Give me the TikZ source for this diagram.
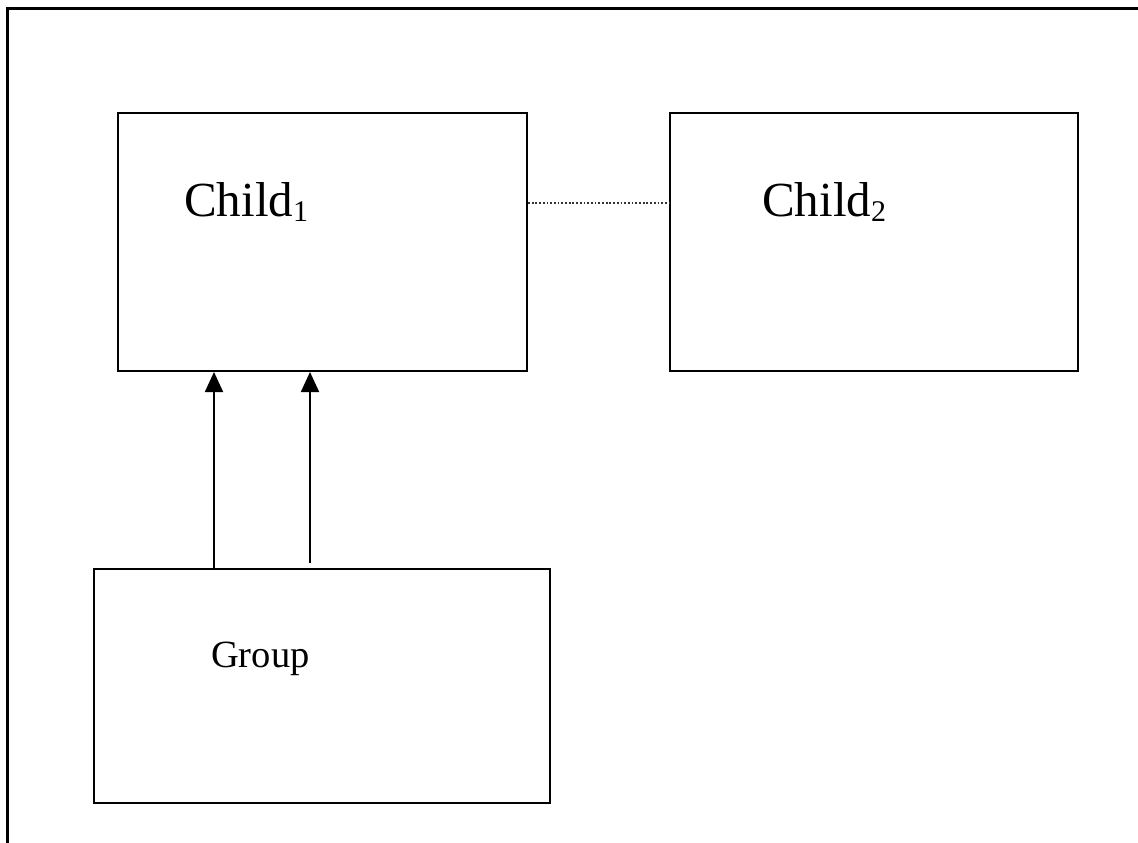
\documentclass[tikz,border=0pt]{standalone}
\usepackage{fontspec}
\setmainfont{Liberation Serif}
\usetikzlibrary{arrows.meta}
\newcommand\mysubidx[1]{\raisebox{-5pt}{\fontsize{30}{30}\selectfont #1}}
\tikzset{
  boxnode/.style={draw, line width=2pt, inner sep=0pt, rectangle},
  arr/.style={line width=1.8pt, -{Triangle[length=20pt,width=18pt]}},
  lbl/.style={anchor=base west, inner sep=0pt},
  frameline/.style={line width=3pt},
  dotline/.style={line width=1.2pt, dash pattern=on 1.8pt off 1.9pt, black!80}
}
\begin{document}
\begin{tikzpicture}[x=1pt,y=-1pt]
\useasboundingbox (0,0) rectangle (1138,843);
% outer frame (top and left edges only)
\coordinate (ftl) at (7,9);
\coordinate (ftr) at (1138,9);
\coordinate (fbl) at (7,843);
\draw[frameline] (ftr) -- (ftl) -- (fbl);
% boxes
\node[boxnode, minimum width=409pt, minimum height=258pt] (c1) at (322.5,242) {};
\node[boxnode, minimum width=408pt, minimum height=258pt] (c2) at (874,242) {};
\node[boxnode, minimum width=456pt, minimum height=234pt] (grp) at (322,686) {};
% labels
\node[lbl] (t1) at (184,216) {\fontsize{49}{49}\selectfont Child\mysubidx{1}};
\node[lbl] (t2) at (762,216) {\fontsize{49}{49}\selectfont Child\mysubidx{2}};
\node[lbl] (tg) at (211,667) {\fontsize{38.5}{38.5}\selectfont Group};
% dotted link
\draw[dotline] (c1.east |- 0,203) -- (c2.west |- 0,203);
% arrows
\coordinate (a1s) at (214,569);
\coordinate (a2s) at (310,563);
\draw[arr] (a1s) -- (c1.south -| a1s);
\draw[arr] (a2s) -- (c1.south -| a2s);
\end{tikzpicture}
\end{document}
